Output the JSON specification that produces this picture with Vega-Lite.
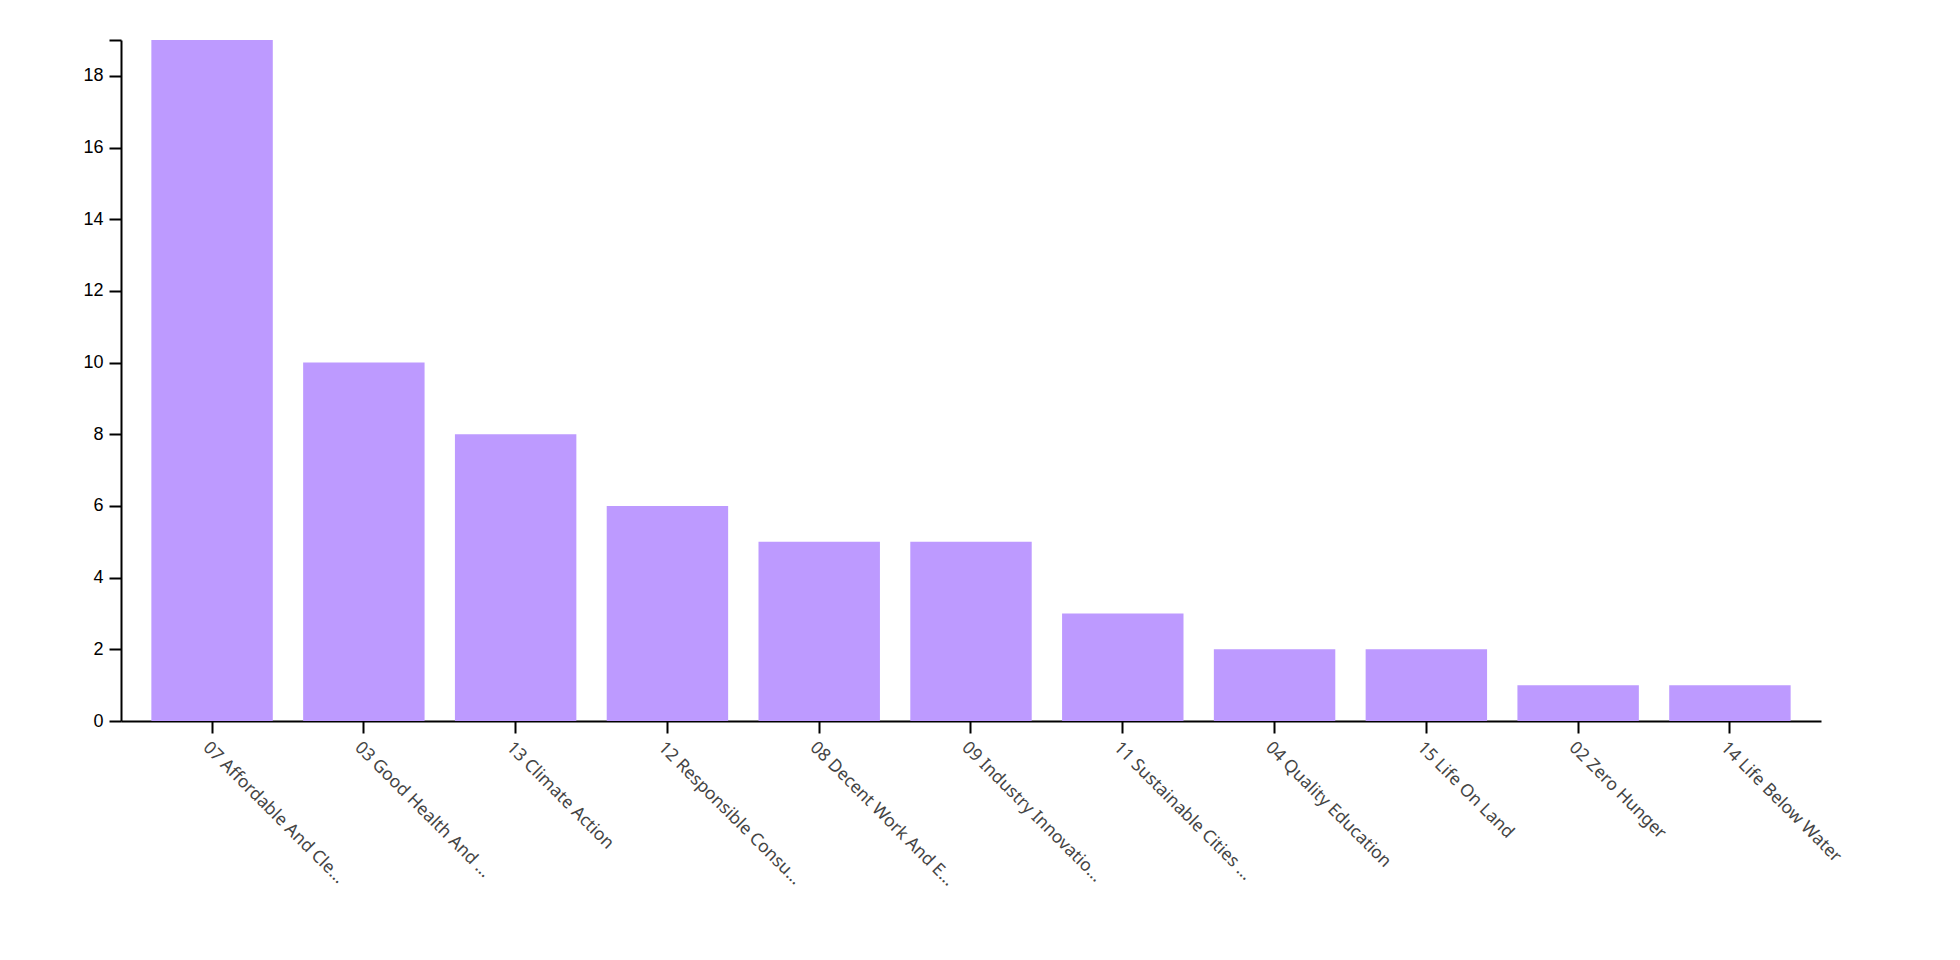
{
  "$schema": "https://vega.github.io/schema/vega-lite/v6.json",
  "autosize": "none",
  "padding": {"left": 121, "top": 40, "right": 139, "bottom": 199},
  "width": 1700,
  "height": 681,
  "background": "white",
  "data": {
    "values": [
      {"goal": "07 Affordable And Clean Energy", "count": 19},
      {"goal": "03 Good Health And Well-being", "count": 10},
      {"goal": "13 Climate Action", "count": 8},
      {"goal": "12 Responsible Consumption And Production", "count": 6},
      {"goal": "08 Decent Work And Economic Growth", "count": 5},
      {"goal": "09 Industry Innovation And Infrastructure", "count": 5},
      {"goal": "11 Sustainable Cities And Communities", "count": 3},
      {"goal": "04 Quality Education", "count": 2},
      {"goal": "15 Life On Land", "count": 2},
      {"goal": "02 Zero Hunger", "count": 1},
      {"goal": "14 Life Below Water", "count": 1}
    ]
  },
  "mark": {"type": "bar", "color": "#bd9aff"},
  "encoding": {
    "x": {
      "field": "goal",
      "type": "nominal",
      "sort": null,
      "title": null,
      "scale": {"paddingInner": 0.2, "paddingOuter": 0.2},
      "axis": {
        "labelAngle": 45,
        "labelAlign": "left",
        "labelBaseline": "top",
        "labelFont": "Noto Sans",
        "labelFontSize": 17.5,
        "labelColor": "#444",
        "labelLimit": 197,
        "labelPadding": 5,
        "tickSize": 12,
        "tickWidth": 2,
        "tickColor": "black",
        "domainColor": "black",
        "domainWidth": 2,
        "grid": false
      }
    },
    "y": {
      "field": "count",
      "type": "quantitative",
      "title": null,
      "scale": {"domain": [0, 19], "nice": false},
      "axis": {
        "values": [0, 2, 4, 6, 8, 10, 12, 14, 16, 18, 19],
        "labelExpr": "datum.value == 19 ? '' : datum.label",
        "labelFont": "Liberation Sans",
        "labelFontSize": 18,
        "labelColor": "black",
        "labelPadding": 6,
        "tickSize": 12,
        "tickWidth": 2,
        "tickColor": "black",
        "domainColor": "black",
        "domainWidth": 2,
        "grid": false
      }
    }
  },
  "config": {"view": {"stroke": null}}
}
